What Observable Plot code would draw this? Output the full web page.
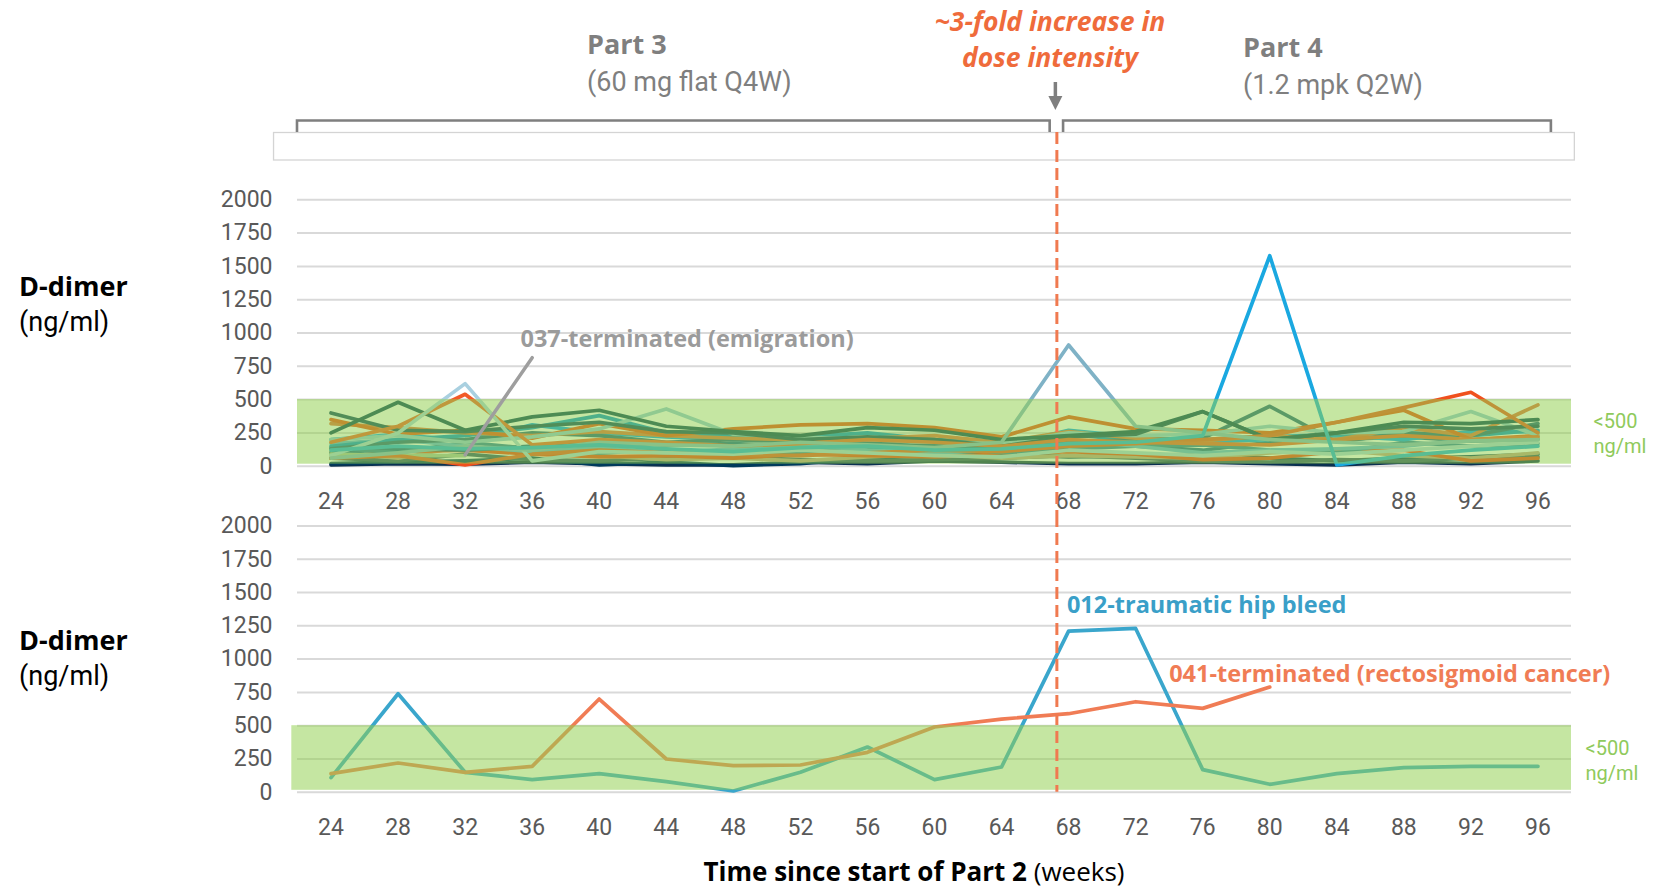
<!DOCTYPE html>
<html>
<head>
<meta charset="utf-8">
<script src="https://cdn.jsdelivr.net/npm/d3@7"></script>
<script src="https://cdn.jsdelivr.net/npm/@observablehq/plot@0.6"></script>
<style>
  html, body { margin: 0; padding: 0; background: #fff; }
  #chart { position: relative; width: 1671px; height: 891px; overflow: hidden; font-family: Roboto, "Open Sans", sans-serif; }
  .t { position: absolute; white-space: nowrap; }
  .t b { font-family: "Open Sans", Roboto, sans-serif; font-weight: 700; }
  .plotbox { position: absolute; left: 0; }
</style>
</head>
<body>
<div id="chart"></div>
<script>
// ---- axes ----
const weeks = [24, 28, 32, 36, 40, 44, 48, 52, 56, 60, 64, 68, 72, 76, 80, 84, 88, 92, 96];
const yTicks = [0, 250, 500, 750, 1000, 1250, 1500, 1750, 2000];
const xDomain = [22, 98];
const yDomain = [0, 2000];

// normal range shading (<500 ng/ml) and dose change
const normalLow = 15;
const normalHigh = 500;
const doseChangeWeek = 67.3;
const part3Span = [22, 66.9];
const part4Span = [67.7, 96.8];
const headerBox = [20.6, 98.2];

// ---- top panel: all subjects (D-dimer, ng/ml) ----
const s01 = [250, 480, 270, 370, 420, 300, 260, 230, 290, 270, 200, 230, 260, 410, 200, 250, 330, 320, 350];
const s02 = [350, 240, 270, 210, 320, 230, 280, 310, 320, 290, 220, 370, 280, 270, 250, 330, 420, 200, 230];
const s03 = [180, 300, 540, 160, 200, 180, 150, 170, 200, 180, 150, 200, 180, 170, 160, 200, 230, 200, 220];
const s04 = [60, 80, 10, 90, 120, 100, 90, 80, 100, 120, 110, 150, 170, 200, 230, 330, 440, 555, 250];
const s05 = [80, 250, 620, 40, 110, 100, 90, 120, 100, 80, 70, 120, 100, 80, 110, 90, 120, 150, 180];
const s06 = [200, 230, 180, 220, 280, 430, 240, 220, 200, 180, 170, 250, 230, 240, 300, 250, 260, 410, 230];
const s07 = [60, 100, 150, 120, 180, 160, 150, 180, 160, 140, 180, 910, 300, 250, 200, 180, 160, 190, 200];
const s08 = [120, 150, 130, 140, 160, 130, 110, 140, 150, 120, 130, 170, 180, 230, 1580, 10, 80, 120, 150];
const s09 = [400, 270, 260, 300, 330, 260, 250, 200, 220, 200, 150, 220, 240, 410, 200, 250, 300, 280, 300];
const s10 = [130, 180, 200, 250, 230, 180, 200, 180, 170, 150, 130, 180, 200, 210, 450, 180, 250, 230, 320];
const s11 = [150, 200, 230, 290, 380, 250, 230, 220, 250, 200, 180, 240, 190, 200, 220, 240, 250, 230, 270];
const s12 = [200, 240, 190, 310, 250, 220, 200, 190, 150, 120, 150, 270, 220, 180, 200, 230, 200, 260, 260];
const s13 = [100, 130, 120, 150, 180, 160, 170, 150, 180, 200, 130, 160, 150, 120, 180, 200, 220, 190, 200];
const s14 = [20, 30, 40, 60, 10, 30, 5, 20, 60, 80, 90, 70, 80, 90, 60, 40, 60, 70, 90];
const s15 = [170, 200, 150, 110, 140, 100, 130, 160, 120, 100, 120, 200, 150, 100, 120, 130, 150, 200, 210];
const s16 = [320, 290, 250, 230, 260, 230, 210, 200, 210, 230, 180, 260, 210, 190, 230, 200, 290, 230, 460];
const s17 = [110, 60, 150, 100, 80, 50, 60, 40, 70, 90, 60, 80, 70, 60, 100, 120, 80, 60, 100];
const s18 = [90, 80, 80]; // 037, terminated after week 32
const s19 = [60, 40, 90, 50, 40, 60, 70, 50, 40, 50, 60, 80, 60, 40, 30, 50, 40, 60, 70];
const s20 = [10, 20, 15, 30, 20, 10, 10, 30, 20, 40, 30, 20, 20, 30, 20, 10, 30, 20, 40];
const s21 = [140, 100, 180, 130, 100, 120, 90, 110, 140, 160, 100, 130, 150, 160, 120, 100, 180, 150, 170];
const s22 = [60, 110, 120, 90, 70, 80, 60, 90, 80, 70, 90, 110, 90, 50, 60, 110, 120, 40, 60];

const topSeries = [
  {id: "s20", color: "#0a3050", values: s20},
  {id: "s14", color: "#003a5c", values: s14},
  {id: "s19", color: "#2e5068", values: s19},
  {id: "s17", color: "#c29d84", values: s17},
  {id: "s22", color: "#f53c0d", values: s22},
  {id: "s13", color: "#15628c", values: s13},
  {id: "s21", color: "#2a7aa0", values: s21},
  {id: "s15", color: "#5baed9", values: s15},
  {id: "s12", color: "#009dee", values: s12},
  {id: "s11", color: "#048ccc", values: s11},
  {id: "s10", color: "#1f5f80", values: s10},
  {id: "s16", color: "#e46a3a", values: s16},
  {id: "s02", color: "#f04a10", values: s02},
  {id: "s06", color: "#8fc4d8", values: s06},
  {id: "s09", color: "#0a4262", values: s09},
  {id: "s01", color: "#003f58", values: s01},
  {id: "s18", color: "#a8c0a0", values: s18},
  {id: "s04", color: "#f0501e", values: s04},
  {id: "s03", color: "#f25a28", values: s03},
  {id: "s05", color: "#a9d0e0", values: s05},
  {id: "s07", color: "#7fb2c6", values: s07},
  {id: "s08", color: "#1aa8e0", values: s08}
];

// ---- bottom panel: highlighted subjects ----
const subj012 = [110, 740, 150, 95, 140, 80, 10, 150, 340, 95, 190, 1210, 1230, 170, 60, 140, 185, 195, 195];
const subj041 = [140, 220, 150, 195, 700, 250, 200, 205, 300, 490, 550, 590, 680, 630, 790, null, null, null, null];
const bottomSeries = [
  {id: "012", color: "#3aa6cc", values: subj012},
  {id: "041", color: "#f07c55", values: subj041}
];

// ---- annotations ----
const note037 = [{x1: 32, y1: 85, x2: 36, y2: 815, tx: 35.3, ty: 955, text: "037-terminated (emigration)"}];
const note012 = [{x: 67.9, y: 1400, text: "012-traumatic hip bleed"}];
const note041 = [{x: 74, y: 888, text: "041-terminated (rectosigmoid cancer)"}];
const rangeLabel = [{x: 98, y: 250, text: "<500\nng/ml"}];

const boldFont = "Open Sans, Roboto, sans-serif";

function toRows(series) {
  return series.flatMap(s => s.values
    .map((v, i) => ({id: s.id, color: s.color, week: weeks[i], value: v}))
    .filter(r => r.value != null));
}

function panel({rows, height, marginTop, marginBottom, bandX1, ruleInsetTop, ruleInsetBottom, rangeDx, extras}) {
  return Plot.plot({
    width: 1671,
    height,
    marginLeft: 297,
    marginRight: 100,
    marginTop,
    marginBottom,
    x: {domain: xDomain},
    y: {domain: yDomain},
    color: {type: "identity"},
    style: {fontFamily: "Roboto, sans-serif", fontSize: "23px", color: "#595959", background: "none"},
    marks: [
      Plot.gridY(yTicks, {stroke: "#d9d9d9", strokeOpacity: 1, strokeWidth: 2}),
      Plot.axisY(yTicks, {tickSize: 0, tickPadding: 25, label: null, tickFormat: d => `${d}`}),
      Plot.axisX(weeks, {tickSize: 0, tickPadding: 26, label: null, tickFormat: d => `${d}`}),
      Plot.line(rows, {x: "week", y: "value", z: "id", stroke: "color", strokeWidth: 3.7,
                       strokeLinejoin: "round", strokeLinecap: "round"}),
      // translucent normal-range band laid over the lines
      Plot.rect([{x1: bandX1, x2: xDomain[1], y1: normalLow, y2: normalHigh}],
                {x1: "x1", x2: "x2", y1: "y1", y2: "y2", fill: "#92D050", fillOpacity: 0.53}),
      Plot.ruleX([doseChangeWeek], {stroke: "#f07a50", strokeWidth: 3, strokeDasharray: "12,6",
                                    insetTop: ruleInsetTop, insetBottom: ruleInsetBottom}),
      Plot.text(rangeLabel, {x: "x", y: "y", text: "text", textAnchor: "start", dx: rangeDx,
                             fill: "#8fca5c", fontSize: 20, lineHeight: 1.25}),
      ...extras
    ]
  });
}

const chart = document.getElementById("chart");

const topPlot = panel({
  rows: toRows(topSeries),
  height: 515, marginTop: 199.3, marginBottom: 49.3,
  bandX1: xDomain[0],
  ruleInsetTop: -67.3, ruleInsetBottom: -49.3,
  rangeDx: 22,
  extras: [
    Plot.link(note037, {x1: "x1", y1: "y1", x2: "x2", y2: "y2", stroke: "#9e9e9e", strokeWidth: 3.5, strokeLinecap: "round"}),
    Plot.text(note037, {x: "tx", y: "ty", text: "text", textAnchor: "start", fill: "#9b9b9b",
                        fontWeight: "bold", fontSize: 23.5, fontFamily: boldFont})
  ]
});

const bottomPlot = panel({
  rows: toRows(bottomSeries),
  height: 411, marginTop: 45.4, marginBottom: 99.2,
  bandX1: 21.66,
  ruleInsetTop: -10.4, ruleInsetBottom: 0,
  rangeDx: 14,
  extras: [
    Plot.text(note012, {x: "x", y: "y", text: "text", textAnchor: "start", fill: "#3a9fc8",
                        fontWeight: "bold", fontSize: 23.5, fontFamily: boldFont}),
    Plot.text(note041, {x: "x", y: "y", text: "text", textAnchor: "start", fill: "#f07c55",
                        fontWeight: "bold", fontSize: 23.5, fontFamily: boldFont})
  ]
});

// header: blank box, bracket per study part and arrow at the dose change
const xs = topPlot.scale("x");
const X = v => xs.apply(v);
const header = d3.create("svg")
  .attr("width", 1671).attr("height", 891)
  .style("position", "absolute").style("left", "0px").style("top", "0px");
header.append("rect")
  .attr("x", X(headerBox[0])).attr("y", 132.5)
  .attr("width", X(headerBox[1]) - X(headerBox[0])).attr("height", 27.5)
  .attr("fill", "#fff").attr("stroke", "#d4d4d4").attr("stroke-width", 1.3);
for (const span of [part3Span, part4Span]) {
  header.append("path")
    .attr("d", `M${X(span[0])},132V120.5H${X(span[1])}V132`)
    .attr("fill", "none").attr("stroke", "#7f7f7f").attr("stroke-width", 2.6);
}
const ax = X(doseChangeWeek) - 1;
header.append("line")
  .attr("x1", ax).attr("x2", ax).attr("y1", 82).attr("y2", 99)
  .attr("stroke", "#7f7f7f").attr("stroke-width", 3.5);
header.append("path")
  .attr("d", `M${ax - 7},96L${ax + 7},96L${ax},110Z`)
  .attr("fill", "#7f7f7f");
chart.appendChild(header.node());

const topBox = document.createElement("div");
topBox.className = "plotbox"; topBox.style.top = "0px";
topBox.appendChild(topPlot);
chart.appendChild(topBox);

const bottomBox = document.createElement("div");
bottomBox.className = "plotbox"; bottomBox.style.top = "480px";
bottomBox.appendChild(bottomPlot);
chart.appendChild(bottomBox);

// text blocks
function addText(html, css) {
  const d = document.createElement("div");
  d.className = "t";
  d.innerHTML = html;
  Object.assign(d.style, css);
  chart.appendChild(d);
  return d;
}
addText('<b>Part 3</b><br>(60 mg flat Q4W)',
  {left: "587px", top: "24.5px", fontSize: "27px", lineHeight: "37px", color: "#7f7f7f"});
addText('<b>Part 4</b><br>(1.2 mpk Q2W)',
  {left: "1243px", top: "27.5px", fontSize: "27px", lineHeight: "37px", color: "#7f7f7f"});
addText('~3-fold increase in<br>dose intensity',
  {left: "1050px", top: "2.5px", transform: "translateX(-50%)", textAlign: "center", fontSize: "26.5px",
   lineHeight: "36.5px", color: "#ef6b3b", fontWeight: "bold", fontStyle: "italic", fontFamily: boldFont});
for (const top of [268, 622]) {
  addText('<b>D-dimer</b><br>(ng/ml)',
    {left: "19px", top: `${top}px`, fontSize: "27px", lineHeight: "35px", color: "#000"});
}
addText('<b>Time since start of Part 2</b> (weeks)',
  {left: "914px", top: "857px", transform: "translateX(-50%)", fontSize: "26px", lineHeight: "28px",
   color: "#000", fontFamily: boldFont});
</script>
</body>
</html>
